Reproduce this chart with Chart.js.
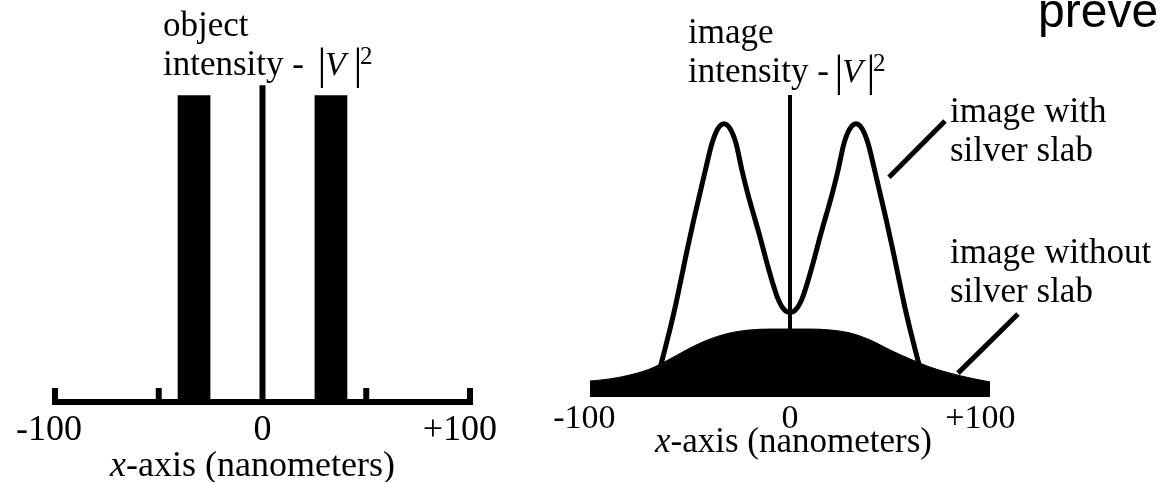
<!DOCTYPE html>
<html><head><meta charset="utf-8">
<script src="https://cdn.jsdelivr.net/npm/chart.js@4.4.1/dist/chart.umd.min.js"></script>
<style>
html,body{margin:0;padding:0;background:#fff;width:1160px;height:482px;overflow:hidden;}
#wrap{position:relative;width:1160px;height:482px;overflow:hidden;}
.cv{position:absolute;top:0;}
.lbl{position:absolute;white-space:nowrap;font-family:"Liberation Serif","Times New Roman",serif;line-height:1;color:#000;}
.sans{font-family:"Liberation Sans",Arial,sans-serif;}
</style></head><body><div id="wrap">
<canvas id="c1" class="cv" width="540" height="482" style="left:0"></canvas>
<canvas id="c2" class="cv" width="620" height="482" style="left:540px"></canvas>
</div>
<script>
// ---------- data ----------
const tickValues = [-100, 0, 100];
const tickLabels = ['-100', '0', '+100'];
const objectTickMarks = [-100, -50, 50, 100];
const objectSlits = [[-41, -25], [25, 41]];      // x ranges of the two object slits (nm)
const objectIntensity = 1.0;
const objectCenterLine = 1.033;
const withSlabX = [-66,-63,-60,-57,-54,-51,-48,-45,-42,-39,-36,-33,-30,-27,-24,-21,-18,-15,-12,-9,-6,-3,0,
                   3,6,9,12,15,18,21,24,27,30,33,36,39,42,45,48,51,54,57,60,63,66];
const withSlabY = [0.07,0.146,0.225,0.31,0.405,0.50,0.59,0.675,0.76,0.84,0.889,0.905,0.889,0.84,0.75,0.67,0.60,0.53,0.455,0.385,0.325,0.29,0.28,
                   0.29,0.325,0.385,0.455,0.53,0.60,0.67,0.75,0.84,0.889,0.905,0.889,0.84,0.76,0.675,0.59,0.50,0.405,0.31,0.225,0.146,0.07];
const withoutSlabX = [-100,-90,-80,-70,-60,-50,-40,-30,-20,-10,0,10,20,30,40,50,60,70,80,90,100];
const withoutSlabY = [0.053,0.060,0.073,0.093,0.126,0.162,0.192,0.212,0.222,0.225,0.225,0.225,0.222,0.212,0.189,0.156,0.126,0.099,0.079,0.063,0.050];
const imageCenterLine = 1.0;
const leaderWith = [[77.5, 0.914], [49.5, 0.728]];
const leaderWithout = [[114, 0.275], [84, 0.079]];

// ---------- helpers ----------
const pts = (xs, ys) => xs.map((x, i) => ({x, y: ys[i]}));
const seg = (a) => a.map(p => ({x: p[0], y: p[1]}));
const SERIF = '"Liberation Serif","Times New Roman",serif';

const tickLabelPlugin = {
  id: 'tickLabels',
  afterDraw(chart, args, o) {
    const {ctx} = chart; const xs = chart.scales.x, ys = chart.scales.y;
    ctx.save();
    ctx.fillStyle = '#000';
    ctx.font = o.size + 'px ' + SERIF;
    ctx.textBaseline = 'alphabetic'; ctx.textAlign = 'left';
    const base = ys.getPixelForValue(0) + o.offset;
    tickValues.forEach((v, i) => {
      const t = tickLabels[i];
      const sign = /^[+\-]/.test(t) ? t[0] : '';
      const digits = t.slice(sign.length);
      const wd = ctx.measureText(digits).width, ws = ctx.measureText(sign).width;
      ctx.fillText(t, xs.getPixelForValue(v) - wd / 2 - ws, base);
    });
    ctx.restore();
  }
};
const tickMarkPlugin = {
  id: 'tickMarks',
  afterDatasetsDraw(chart, args, o) {
    if (!o.values) return;
    const {ctx} = chart; const xs = chart.scales.x, ys = chart.scales.y;
    const y0 = ys.getPixelForValue(0);
    ctx.save(); ctx.fillStyle = '#000';
    o.values.forEach(v => { const px = xs.getPixelForValue(v); ctx.fillRect(px - o.w / 2, y0 - o.len, o.w, o.len); });
    ctx.restore();
  }
};

const baseLine = {showLine: true, pointRadius: 0, borderColor: '#000', backgroundColor: '#000', fill: false, tension: 0, clip: false};
function makeOptions(pad, ymax, plug) {
  return {
    responsive: false, animation: false, events: [],
    layout: {padding: pad},
    scales: {
      x: {type: 'linear', min: -100, max: 100, display: false},
      y: {type: 'linear', min: 0, max: ymax, display: false}
    },
    plugins: Object.assign({legend: {display: false}, tooltip: {enabled: false}}, plug)
  };
}

// ---------- left chart: object ----------
const leftSets = objectSlits.map(r => Object.assign({}, baseLine, {
  data: [{x: r[0], y: 0}, {x: r[0], y: objectIntensity}, {x: r[1], y: objectIntensity}, {x: r[1], y: 0}],
  fill: 'origin', borderWidth: 0
}));
leftSets.push(Object.assign({}, baseLine, {data: [{x: 0, y: 0}, {x: 0, y: objectCenterLine}], borderWidth: 6, borderCapStyle: 'butt'}));
leftSets.push(Object.assign({}, baseLine, {data: [{x: -100, y: 0}, {x: 100, y: 0}], borderWidth: 6, borderCapStyle: 'square'}));
new Chart(document.getElementById('c1'), {
  type: 'scatter',
  data: {datasets: leftSets},
  options: makeOptions({left: 55, right: 70, top: 80, bottom: 80}, 1.05,
    {tickLabels: {size: 36, offset: 38}, tickMarks: {values: objectTickMarks, len: 14, w: 6}}),
  plugins: [tickLabelPlugin, tickMarkPlugin]
});

// ---------- right chart: image ----------
const rightSets = [
  Object.assign({}, baseLine, {data: pts(withoutSlabX, withoutSlabY), fill: 'origin', borderWidth: 1, cubicInterpolationMode: 'monotone', clip: 0}),
  Object.assign({}, baseLine, {data: pts(withSlabX, withSlabY), borderWidth: 5, cubicInterpolationMode: 'monotone', borderJoinStyle: 'round'}),
  Object.assign({}, baseLine, {data: [{x: 0, y: 0}, {x: 0, y: imageCenterLine}], borderWidth: 4, borderCapStyle: 'butt'}),
  Object.assign({}, baseLine, {data: seg(leaderWith), borderWidth: 5}),
  Object.assign({}, baseLine, {data: seg(leaderWithout), borderWidth: 5})
];
new Chart(document.getElementById('c2'), {
  type: 'scatter',
  data: {datasets: rightSets},
  options: makeOptions({left: 50, right: 170, top: 95, bottom: 85}, 1.0,
    {tickLabels: {size: 34, offset: 31}, tickMarks: {}}),
  plugins: [tickLabelPlugin, tickMarkPlugin]
});

// ---------- text labels ----------
const wrap = document.getElementById('wrap');
function place(html, x, baseline, size, cls, align) {
  const d = document.createElement('div');
  d.className = 'lbl' + (cls ? ' ' + cls : '');
  d.innerHTML = html;
  d.style.fontSize = size + 'px';
  const k = (cls === 'sans') ? 0.8465 : 0.8375;
  d.style.top = (baseline - k * size) + 'px';
  wrap.appendChild(d);
  if (align === 'center') d.style.left = (x - d.offsetWidth / 2) + 'px'; else d.style.left = x + 'px';
}
function intensityLabel(first, x, b1, b2, barL, barR, vx) {
  place(first, x, b1, 35);
  place('intensity -', x, b2, 35);
  place('|', barL, b2 + 5, 44, '', 'center');
  place('<i>V</i>', vx, b2, 34);
  place('|', barR, b2 + 5, 44, '', 'center');
  place('2', barR + 2, b2 - 11, 25);
}
intensityLabel('object', 163, 36, 75, 322, 358, 325);
intensityLabel('image', 688, 43, 82, 839, 871, 842);
place('image with', 950, 122, 35);
place('silver slab', 950, 161, 35);
place('image without', 950, 263, 35);
place('silver slab', 950, 302, 35);
place('<i>x</i>-axis (nanometers)', 110, 476, 36);
place('<i>x</i>-axis (nanometers)', 655, 452, 35);
place('preve', 1038, 28, 48, 'sans');
</script></body></html>
